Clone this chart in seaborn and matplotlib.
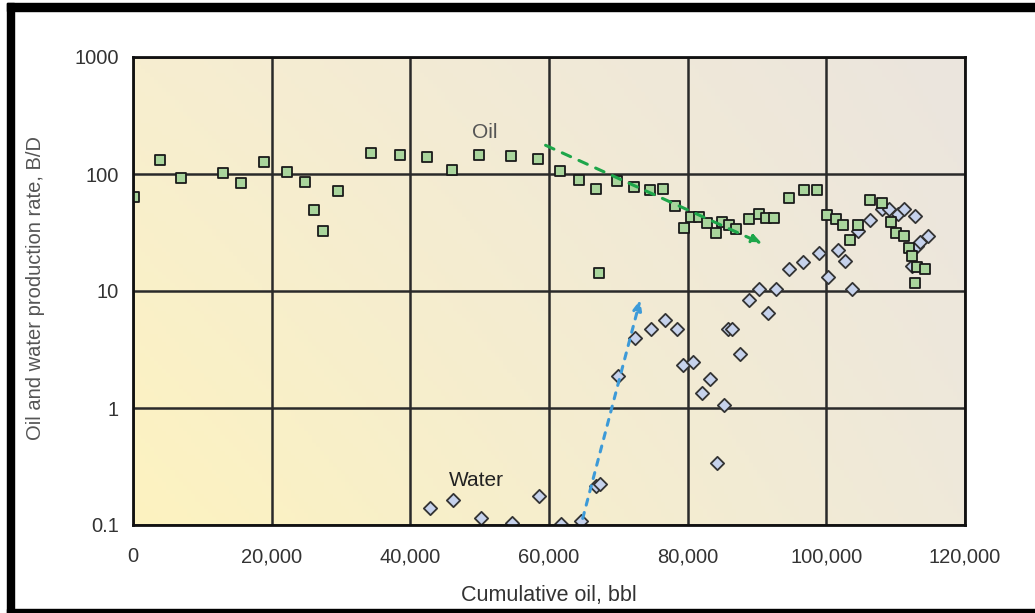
import numpy as np
import pandas as pd
import matplotlib
matplotlib.use("Agg")
import matplotlib.pyplot as plt
from matplotlib.patches import Rectangle
import seaborn as sns

# Oil rate (squares)
oil_cum = [190, 3940, 6970, 12940, 15580, 18850, 22170, 24860, 26100, 27360, 29520,
           34280, 38470, 42400, 46010, 49900, 54520, 58420, 61590, 64330, 66780,
           67210, 69770, 72220, 74620, 76500, 78180, 79440, 80540, 81680, 82830,
           84040, 84910, 85920, 87020, 88850, 90290, 91300, 92500, 94570, 96740,
           98660, 100100, 101440, 102360, 103460, 104570, 106350, 108080, 109340,
           110010, 111210, 111980, 112410, 113040, 114290, 112750]
oil_rate = [64, 132, 92, 102, 84, 127, 103, 86, 49.5, 32.4, 71.6,
            151, 145, 140, 109, 145, 142, 134, 106, 89, 74.5,
            14.2, 87, 78, 73, 74.5, 53.6, 34.7, 42.7, 43, 38.4,
            31.1, 38.9, 36.9, 33.7, 41, 45.5, 42, 42, 62.3, 73,
            73, 44.4, 41, 36.9, 27.3, 36.9, 60, 56.2, 38.6,
            31.5, 29.7, 23.3, 20, 16.1, 15.4, 11.6]

# Water rate (diamonds)
water_cum = [42840, 46200, 50190, 54620, 58560, 61730, 64570, 66780, 67360, 69910,
             72410, 74670, 76740, 78420, 79380, 80730, 82020, 83220, 84190, 85290,
             85870, 86340, 87550, 88850, 90250, 91550, 92750, 94570, 96690, 98900,
             100200, 101640, 102740, 103660, 104620, 106350, 108080, 109090, 110390,
             111250, 112790, 113040, 113520, 114710, 112400]
water_rate = [0.139, 0.164, 0.114, 0.105, 0.178, 0.102, 0.108, 0.217, 0.224, 1.89,
              3.94, 4.73, 5.65, 4.73, 2.34, 2.46, 1.34, 1.77, 0.339, 1.07,
              4.73, 4.73, 2.89, 8.43, 10.5, 6.44, 10.4, 15.4, 17.6, 21,
              13.1, 22.5, 18.2, 10.5, 32.8, 40.7, 50.2, 50, 45.5,
              50, 44, 24.4, 26.1, 29.3, 16.4]

x_ticks = [0, 20000, 40000, 60000, 80000, 100000, 120000]
x_tick_labels = ["0", "20,000", "40,000", "60,000", "80,000", "100,000", "120,000"]
y_ticks = [0.1, 1, 10, 100, 1000]
y_tick_labels = ["0.1", "1", "10", "100", "1000"]

# trend arrows (start, end)
oil_arrow = ((59140, 180), (91160, 24.7))
water_arrow = ((64760, 0.108), (73270, 8.9))

oil = pd.DataFrame({"cum": oil_cum, "rate": oil_rate})
water = pd.DataFrame({"cum": water_cum, "rate": water_rate})

sns.set_style("white")
plt.rcParams["font.family"] = ["Liberation Sans", "DejaVu Sans"]

fig = plt.figure(figsize=(10.35, 6.13), dpi=100)
ax = fig.add_axes([133 / 1035, 88 / 613, 832 / 1035, 468 / 613])

# background gradient
bl = np.array([253, 243, 192]) / 255
tl = np.array([247, 238, 208]) / 255
br = np.array([239, 233, 218]) / 255
tr = np.array([235, 229, 222]) / 255
u = np.linspace(0, 1, 200)[None, :, None]
v = np.linspace(0, 1, 120)[:, None, None]
grad = (1 - u) * (1 - v) * bl + u * (1 - v) * br + (1 - u) * v * tl + u * v * tr
ax.imshow(grad, extent=[0, 1, 0, 1], transform=ax.transAxes, origin="lower",
          aspect="auto", zorder=0)

ax.set_yscale("log")
ax.set_xlim(0, 120000)
ax.set_ylim(0.1, 1000)

sns.scatterplot(data=oil, x="cum", y="rate", marker="s", s=58, color="#a9d59c",
                edgecolor="#1a1a1a", linewidth=1.3, ax=ax, zorder=4)
sns.scatterplot(data=water, x="cum", y="rate", marker="D", s=46, color="#c6d2ec",
                edgecolor="#333333", linewidth=1.3, ax=ax, zorder=3)

ax.annotate("", xy=oil_arrow[1], xytext=oil_arrow[0],
            arrowprops=dict(arrowstyle="-|>,head_length=0.6,head_width=0.25",
                            color="#1ea64a", lw=2.2, linestyle=(0, (3, 3))), zorder=5)
ax.annotate("", xy=water_arrow[1], xytext=water_arrow[0],
            arrowprops=dict(arrowstyle="-|>,head_length=0.6,head_width=0.25",
                            color="#3d9ad8", lw=2.2, linestyle=(0, (2, 2.5))), zorder=5)

ax.text(50770, 228, "Oil", fontsize=15, color="#555555", ha="center", va="center")
ax.text(49470, 0.238, "Water", fontsize=15, color="#222222", ha="center", va="center")

ax.set_xticks(x_ticks)
ax.set_xticklabels(x_tick_labels)
ax.set_yticks(y_ticks)
ax.set_yticklabels(y_tick_labels)
ax.minorticks_off()
ax.tick_params(axis="both", length=0, labelsize=14.5, colors="#333333")
ax.tick_params(axis="x", pad=16)
ax.tick_params(axis="y", pad=10)

ax.grid(True, which="major", color="#2a2a2a", linewidth=1.8)
for line in ax.get_xgridlines() + ax.get_ygridlines():
    line.set_zorder(1)
for sp in ax.spines.values():
    sp.set_linewidth(2)
    sp.set_color("#111111")
    sp.set_zorder(6)

ax.set_xlabel("Cumulative oil, bbl", fontsize=15.5, color="#333333")
ax.set_ylabel("Oil and water production rate, B/D", fontsize=14.5, color="#555555")
ax.xaxis.set_label_coords(0.5, -0.128)
ax.yaxis.set_label_coords(-0.106, 0.507)

# outer black frame
W, H = 1035, 613
fig.patches.append(Rectangle((7 / W, 0), 7 / W, 1 - 3 / H, transform=fig.transFigure,
                             color="black", zorder=10))
fig.patches.append(Rectangle((7 / W, 1 - 11 / H), 1, 8 / H, transform=fig.transFigure,
                             color="black", zorder=10))
fig.patches.append(Rectangle((7 / W, 0), 1, 4 / H, transform=fig.transFigure,
                             color="black", zorder=10))

fig.savefig("out.png", dpi=100)
